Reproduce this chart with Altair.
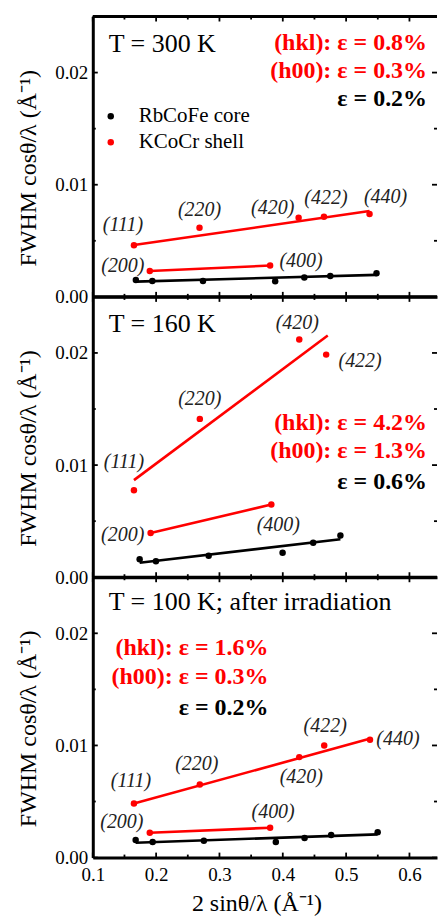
import altair as alt
import pandas as pd

FONT = "Liberation Serif"
RED = "#ff0000"
BLACK = "#000000"
HKL_COLOR = "#222222"

# plot-area size of each stacked panel (px)
W = 345
H = 281
X_DOMAIN = [0.1, 0.6435]
Y_DOMAIN = [0.0, 0.025]

X_MAJOR = [0.1, 0.2, 0.3, 0.4, 0.5, 0.6]
X_MINOR = [0.15, 0.25, 0.35, 0.45, 0.55]
Y_MAJOR = [0.0, 0.01, 0.02]
Y_MINOR = [0.005, 0.015, 0.025]

# ---- T = 300 K ----
CORE_300_X = [0.168, 0.194, 0.274, 0.388, 0.434, 0.475, 0.548]
CORE_300_Y = [0.00151, 0.00142, 0.00142, 0.00140, 0.00172, 0.00187, 0.00211]
CORE_300_FIT_X = [0.168, 0.548]
CORE_300_FIT_Y = [0.00136, 0.00196]
SHELL_300_HKL = ["(111)", "(200)", "(220)", "(400)", "(420)", "(422)", "(440)"]
SHELL_300_X = [0.165, 0.190, 0.2685, 0.380, 0.425, 0.465, 0.537]
SHELL_300_Y = [0.00460, 0.00231, 0.00617, 0.00279, 0.00706, 0.00715, 0.00738]
HKL_300_FIT_X = [0.165, 0.537]
HKL_300_FIT_Y = [0.00462, 0.00765]
H00_300_FIT_X = [0.190, 0.380]
H00_300_FIT_Y = [0.00231, 0.00279]
STRAIN_300 = [0.8, 0.3, 0.2]

# ---- T = 160 K ----
CORE_160_X = [0.174, 0.1997, 0.283, 0.3997, 0.448, 0.491]
CORE_160_Y = [0.00161, 0.00143, 0.00191, 0.00218, 0.00308, 0.00373]
CORE_160_FIT_X = [0.174, 0.491]
CORE_160_FIT_Y = [0.00129, 0.00338]
SHELL_160_HKL = ["(111)", "(200)", "(220)", "(400)", "(420)", "(422)"]
SHELL_160_X = [0.165, 0.1913, 0.269, 0.3819, 0.426, 0.4685]
SHELL_160_Y = [0.00776, 0.00394, 0.01412, 0.00648, 0.02120, 0.01985]
HKL_160_FIT_X = [0.165, 0.471]
HKL_160_FIT_Y = [0.00866, 0.02155]
H00_160_FIT_X = [0.1913, 0.3819]
H00_160_FIT_Y = [0.00394, 0.00648]
STRAIN_160 = [4.2, 1.3, 0.6]

# ---- T = 100 K, after irradiation ----
CORE_100_X = [0.1677, 0.1945, 0.2754, 0.389, 0.4344, 0.4764, 0.5498]
CORE_100_Y = [0.00156, 0.00139, 0.00151, 0.00139, 0.00174, 0.00201, 0.00227]
CORE_100_FIT_X = [0.1677, 0.5498]
CORE_100_FIT_Y = [0.00133, 0.00207]
SHELL_100_HKL = ["(111)", "(200)", "(220)", "(400)", "(420)", "(422)", "(440)"]
SHELL_100_X = [0.165, 0.190, 0.269, 0.380, 0.426, 0.4654, 0.5377]
SHELL_100_Y = [0.00482, 0.00222, 0.00651, 0.00266, 0.00896, 0.01000, 0.01050]
HKL_100_FIT_X = [0.165, 0.537]
HKL_100_FIT_Y = [0.00482, 0.01059]
H00_100_FIT_X = [0.190, 0.380]
H00_100_FIT_Y = [0.00222, 0.00266]
STRAIN_100 = [1.6, 0.3, 0.2]

# pixel offsets of each reflection label from its point
OFFSETS_300 = {"(111)": (-11, -20), "(220)": (0, -18), "(420)": (-26, -10),
               "(422)": (2, -19), "(440)": (16, -17), "(200)": (-27, -5),
               "(400)": (31, -5)}
OFFSETS_160 = {"(111)": (-10, -28), "(220)": (0, -20), "(420)": (-2, -17),
               "(422)": (34, 6), "(200)": (-28, 2), "(400)": (7, 21)}
OFFSETS_100 = {"(111)": (-3, -23), "(220)": (-3, -21), "(420)": (2, 20),
               "(422)": (1, -19), "(440)": (28, -1), "(200)": (-28, -11),
               "(400)": (3, -16)}

xs = alt.Scale(domain=X_DOMAIN, nice=False, zero=False)
ys = alt.Scale(domain=Y_DOMAIN, nice=False, zero=False)
ONE = alt.Data(values=[{}])
Y_TITLE = "FWHM cosθ/λ (Å⁻¹)"


def xy(axis_x=None, axis_y=None):
    return dict(
        x=alt.X("x:Q", scale=xs, axis=axis_x),
        y=alt.Y("y:Q", scale=ys, axis=axis_y),
    )


def line(xv, yv, color):
    df = pd.DataFrame({"x": xv, "y": yv})
    return alt.Chart(df).mark_line(color=color, strokeWidth=2.6).encode(**xy())


def tick_layers():
    out = []
    for vals, ln in ((X_MAJOR, 5), (X_MINOR, 3)):
        df = pd.DataFrame({"v": vals})
        for y0, y1 in ((0, ln), (H, H - ln)):
            out.append(alt.Chart(df).mark_rule(color=BLACK, strokeWidth=1.8).encode(
                x=alt.X("v:Q", scale=xs, axis=None),
                y=alt.value(y0), y2=alt.value(y1)))
    for vals, ln in ((Y_MAJOR, 5), (Y_MINOR, 3)):
        df = pd.DataFrame({"v": vals})
        for x0, x1 in ((0, ln), (W, W - ln)):
            out.append(alt.Chart(df).mark_rule(color=BLACK, strokeWidth=1.8).encode(
                y=alt.Y("v:Q", scale=ys, axis=None),
                x=alt.value(x0), x2=alt.value(x1)))
    out.append(alt.Chart(ONE).mark_rule(color=BLACK, strokeWidth=3).encode(
        x=alt.value(0), x2=alt.value(W), y=alt.value(0)))
    return out


def note(text, px, py, align="left", size=26, weight="normal", color=BLACK):
    return alt.Chart(ONE).mark_text(
        align=align, baseline="middle", font=FONT, fontSize=size,
        fontWeight=weight, color=color,
    ).encode(x=alt.value(px), y=alt.value(py), text=alt.value(text))


def panel(core_x, core_y, core_fx, core_fy, sh_hkl, sh_x, sh_y,
          hkl_fx, hkl_fy, h00_fx, h00_fy, offsets, strain,
          temp_text, temp_y, strain_right, strain_ys, bottom, legend):
    core = pd.DataFrame({"x": core_x, "y": core_y})
    shell = pd.DataFrame({"hkl": sh_hkl, "x": sh_x, "y": sh_y})

    x_axis = alt.Axis(
        orient="bottom", values=X_MAJOR, format=".1f", ticks=False,
        domain=True, domainWidth=3, domainColor=BLACK,
        labels=bottom, labelFlush=False, labelPadding=8,
        title="2 sinθ/λ (Å⁻¹)" if bottom else None,
        titlePadding=7, titleX=164, titleAlign="center",
    )
    y_axis = alt.Axis(
        orient="left", values=Y_MAJOR, format=".2f", ticks=False,
        domain=True, domainWidth=3, domainColor=BLACK,
        labelPadding=5, title=Y_TITLE, titlePadding=14,
        titleY=H / 2 + 11, titleAlign="center",
    )

    # invisible carrier of the two axes, drawn first
    layers = [alt.Chart(core).mark_circle(opacity=0).encode(**xy(x_axis, y_axis))]
    layers += tick_layers()
    layers.append(line(core_fx, core_fy, BLACK))
    layers.append(line(hkl_fx, hkl_fy, RED))
    layers.append(line(h00_fx, h00_fy, RED))
    layers.append(alt.Chart(core).mark_circle(size=42, color=BLACK, opacity=1)
                  .encode(**xy()))
    layers.append(alt.Chart(shell).mark_circle(size=42, color=RED, opacity=1)
                  .encode(**xy()))
    for h, (dx, dy) in offsets.items():
        layers.append(
            alt.Chart(shell).transform_filter(alt.datum.hkl == h)
            .mark_text(dx=dx, dy=dy, font=FONT, fontSize=20, fontStyle="italic",
                       color=HKL_COLOR, baseline="middle", align="center")
            .encode(text="hkl:N", **xy())
        )

    layers.append(note(temp_text, 16, temp_y))
    labels = [f"(hkl): ε = {strain[0]:.1f}%", f"(h00): ε = {strain[1]:.1f}%",
              f"ε = {strain[2]:.1f}%"]
    colors = [RED, RED, BLACK]
    for s, yy, c in zip(labels, strain_ys, colors):
        layers.append(note(s, strain_right, yy, align="right", size=24,
                           weight="bold", color=c))
    if legend:
        layers.append(alt.Chart(ONE).mark_circle(size=42, color=BLACK, opacity=1)
                      .encode(x=alt.value(18), y=alt.value(100)))
        layers.append(alt.Chart(ONE).mark_circle(size=42, color=RED, opacity=1)
                      .encode(x=alt.value(18), y=alt.value(126)))
        layers.append(note("RbCoFe core", 46, 100, size=21))
        layers.append(note("KCoCr shell", 46, 126, size=21))

    return (alt.layer(*layers)
            .resolve_axis(x="independent", y="independent")
            .properties(width=W, height=H))


p300 = panel(CORE_300_X, CORE_300_Y, CORE_300_FIT_X, CORE_300_FIT_Y,
             SHELL_300_HKL, SHELL_300_X, SHELL_300_Y,
             HKL_300_FIT_X, HKL_300_FIT_Y, H00_300_FIT_X, H00_300_FIT_Y,
             OFFSETS_300, STRAIN_300, "T = 300 K", 28, 335, [27, 55, 83],
             bottom=False, legend=True)
p160 = panel(CORE_160_X, CORE_160_Y, CORE_160_FIT_X, CORE_160_FIT_Y,
             SHELL_160_HKL, SHELL_160_X, SHELL_160_Y,
             HKL_160_FIT_X, HKL_160_FIT_Y, H00_160_FIT_X, H00_160_FIT_Y,
             OFFSETS_160, STRAIN_160, "T = 160 K", 27, 335, [126, 154, 186],
             bottom=False, legend=False)
p100 = panel(CORE_100_X, CORE_100_Y, CORE_100_FIT_X, CORE_100_FIT_Y,
             SHELL_100_HKL, SHELL_100_X, SHELL_100_Y,
             HKL_100_FIT_X, HKL_100_FIT_Y, H00_100_FIT_X, H00_100_FIT_Y,
             OFFSETS_100, STRAIN_100, "T = 100 K; after irradiation", 25, 176,
             [71, 100, 131], bottom=True, legend=False)

chart = (
    alt.vconcat(p300, p160, p100, spacing=0, bounds="flush")
    .properties(padding={"left": 16, "top": 13.5, "right": 0, "bottom": 0},
                background="white")
    .configure_view(stroke=None)
    .configure_axis(
        labelFont=FONT, labelFontSize=19, labelColor=BLACK,
        titleFont=FONT, titleFontSize=24, titleFontWeight="normal",
        titleColor=BLACK, grid=False,
    )
)

chart.save("out.html", embed_options={"renderer": "svg", "actions": False})
